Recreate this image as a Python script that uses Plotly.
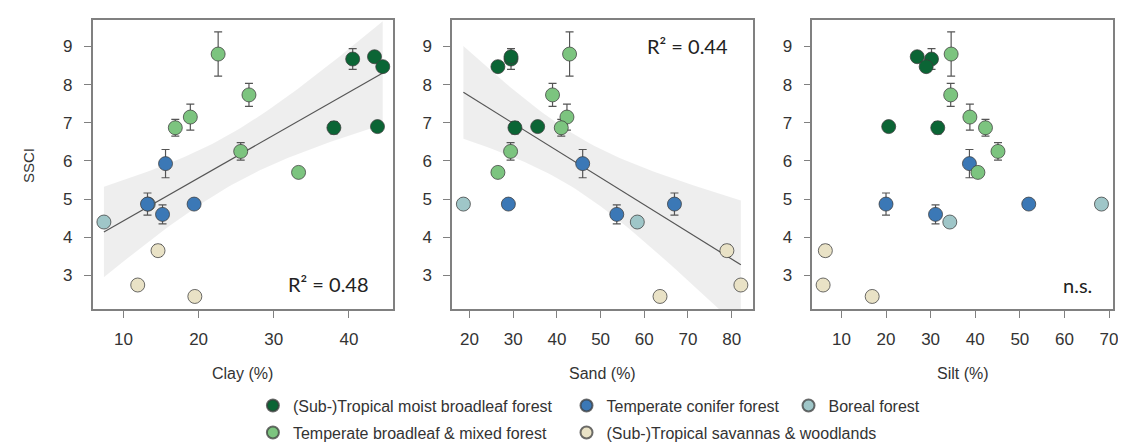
import numpy as np
import plotly.graph_objects as go

# ---------------- data ----------------
biome_names = [
    "(Sub-)Tropical moist broadleaf forest",
    "Temperate broadleaf & mixed forest",
    "Temperate conifer forest",
    "(Sub-)Tropical savannas & woodlands",
    "Boreal forest",
]
biome_colors = ["#0b6535", "#7cc47f", "#3b78b6", "#e9e2c6", "#9fc6c8"]

site_biome = [0] * 5 + [1] * 6 + [2] * 4 + [4] * 2 + [3] * 3
ssci = [8.67, 8.73, 8.47, 6.87, 6.90,
        8.80, 7.73, 7.15, 6.87, 6.25, 5.70,
        5.93, 4.87, 4.60, 4.87,
        4.40, 4.87,
        3.65, 2.75, 2.45]
ssci_se = [0.27, 0.07, 0.06, 0.16, 0.08,
           0.58, 0.30, 0.34, 0.22, 0.23, 0.08,
           0.37, 0.29, 0.25, 0.05,
           0.08, 0.13,
           0.15, 0.08, 0.03]
clay = [40.5, 43.4, 44.5, 38.0, 43.8,
        22.6, 26.7, 18.9, 16.9, 25.6, 33.3,
        15.6, 13.2, 15.2, 19.4,
        7.4, 13.3,
        14.6, 11.9, 19.5]
sand = [29.5, 29.5, 26.5, 30.4, 35.6,
        42.9, 39.0, 42.3, 41.0, 29.4, 26.5,
        45.9, 66.9, 53.7, 28.9,
        58.4, 18.6,
        78.9, 82.1, 63.6]
silt = [30.2, 27.0, 29.0, 31.6, 20.6,
        34.6, 34.5, 38.8, 42.3, 45.1, 40.6,
        38.7, 20.0, 31.1, 52.0,
        34.3, 68.3,
        6.4, 5.9, 16.9]

x_titles = ["Clay (%)", "Sand (%)", "Silt (%)"]
fit_labels = ["R\u00b2 = 0.48", "R\u00b2 = 0.44", "n.s."]
x_ticks = [[10, 20, 30, 40], [20, 30, 40, 50, 60, 70, 80], [10, 20, 30, 40, 50, 60, 70]]
y_ticks = [3, 4, 5, 6, 7, 8, 9]

# ---------------- layout constants ----------------
W, H = 1126, 442
x_domains = [[85 / W, 387 / W], [446 / W, 748 / W], [808 / W, 1110 / W]]
y_domain = [1 - 307 / H, 1 - 12.7 / H]
x_ranges = [[5.9, 45.9], [16.0, 84.8], [3.5, 70.9]]
y_range = [2.11, 9.68]
do_fit = [True, True, False]
label_pos = [(322, 281), (683, 39), (1074, 282)]

ARIAL = "Liberation Sans"
CALIBRI = "Lato"

fig = go.Figure()
textures = [clay, sand, silt]
y_arr = np.array(ssci)
biome_arr = np.array(site_biome)
se_arr = np.array(ssci_se)

for p in range(3):
    xa = "x" if p == 0 else f"x{p + 1}"
    ya = "y" if p == 0 else f"y{p + 1}"
    xv = np.array(textures[p])
    if do_fit[p]:
        n = len(xv)
        b1, b0 = np.polyfit(xv, y_arr, 1)
        resid = y_arr - (b0 + b1 * xv)
        s = np.sqrt(np.sum(resid ** 2) / (n - 2))
        xs = np.linspace(xv.min(), xv.max(), 60)
        yhat = b0 + b1 * xs
        t975 = 2.101  # t quantile, df = 18
        se_fit = s * np.sqrt(1 / n + (xs - xv.mean()) ** 2 / np.sum((xv - xv.mean()) ** 2))
        up, lo = yhat + t975 * se_fit, yhat - t975 * se_fit
        fig.add_trace(go.Scatter(
            x=np.concatenate([xs, xs[::-1]]), y=np.concatenate([up, lo[::-1]]),
            fill="toself", fillcolor="rgba(0,0,0,0.065)", line=dict(width=0),
            mode="lines", hoverinfo="skip", showlegend=False, xaxis=xa, yaxis=ya))
        fig.add_trace(go.Scatter(
            x=xs, y=yhat, mode="lines", line=dict(color="#555555", width=1.2),
            hoverinfo="skip", showlegend=False, xaxis=xa, yaxis=ya))
    for b in [4, 3, 2, 1, 0]:
        m = biome_arr == b
        fig.add_trace(go.Scatter(
            x=xv[m], y=y_arr[m], mode="markers", name=biome_names[b],
            marker=dict(size=14, color=biome_colors[b],
                        line=dict(color="rgba(60,60,60,0.75)", width=1)),
            error_y=dict(type="data", array=se_arr[m], color="#555555",
                         thickness=1.2, width=4),
            showlegend=(p == 0),
            legend=("legend" if b == 0 else f"legend{b + 1}"),
            xaxis=xa, yaxis=ya))

axis_common = dict(showline=True, mirror=True, linecolor="#808080", linewidth=1.5,
                   ticks="outside", ticklen=7, tickcolor="#808080", tickwidth=1.2,
                   showgrid=False, zeroline=False,
                   tickfont=dict(family=ARIAL, size=17, color="#333333"))
for p in range(3):
    xkey = "xaxis" if p == 0 else f"xaxis{p + 1}"
    ykey = "yaxis" if p == 0 else f"yaxis{p + 1}"
    ya = "y" if p == 0 else f"y{p + 1}"
    xa = "x" if p == 0 else f"x{p + 1}"
    fig.layout[xkey] = dict(domain=x_domains[p], range=x_ranges[p], anchor=ya,
                            tickvals=x_ticks[p], ticklabelstandoff=6, **axis_common)
    fig.layout[ykey] = dict(domain=y_domain, range=y_range, anchor=xa,
                            tickvals=y_ticks, ticklabelstandoff=8, **axis_common)
    cx = (x_domains[p][0] + x_domains[p][1]) / 2
    fig.add_annotation(x=cx, y=1 - 372 / H, xref="paper", yref="paper",
                       xanchor="center", yanchor="middle",
                       text=x_titles[p], showarrow=False,
                       font=dict(family=ARIAL, size=16, color="#333333"))
    lx, ly = label_pos[p]
    fig.add_annotation(x=lx / W, y=1 - ly / H, xref="paper", yref="paper",
                       xanchor="center", yanchor="middle",
                       text=fit_labels[p], showarrow=False,
                       font=dict(family=CALIBRI, size=20, color="#222222"))

fig.add_annotation(x=20 / W, y=1 - 160 / H, xref="paper", yref="paper", text="SSCI",
                   xanchor="center", yanchor="middle",
                   textangle=-90, showarrow=False,
                   font=dict(family=ARIAL, size=15, color="#333333"))

# legends: marker centre positions (px)
leg_pos = {0: (273, 405), 1: (273, 432.5), 2: (588, 405), 3: (588, 432.5), 4: (811, 405)}
leg_layout = {}
for b, (mx, my) in leg_pos.items():
    key = "legend" if b == 0 else f"legend{b + 1}"
    leg_layout[key] = dict(x=(mx - 27) / W, y=1 - my / H, xanchor="left", yanchor="middle",
                           orientation="h", bgcolor="rgba(0,0,0,0)", borderwidth=0,
                           itemsizing="constant", itemwidth=30,
                           font=dict(family=ARIAL, size=16, color="#333333"))

fig.update_layout(width=W, height=H, margin=dict(l=0, r=0, t=0, b=0),
                  plot_bgcolor="white", paper_bgcolor="white", **leg_layout)
fig.write_html("out.html")
